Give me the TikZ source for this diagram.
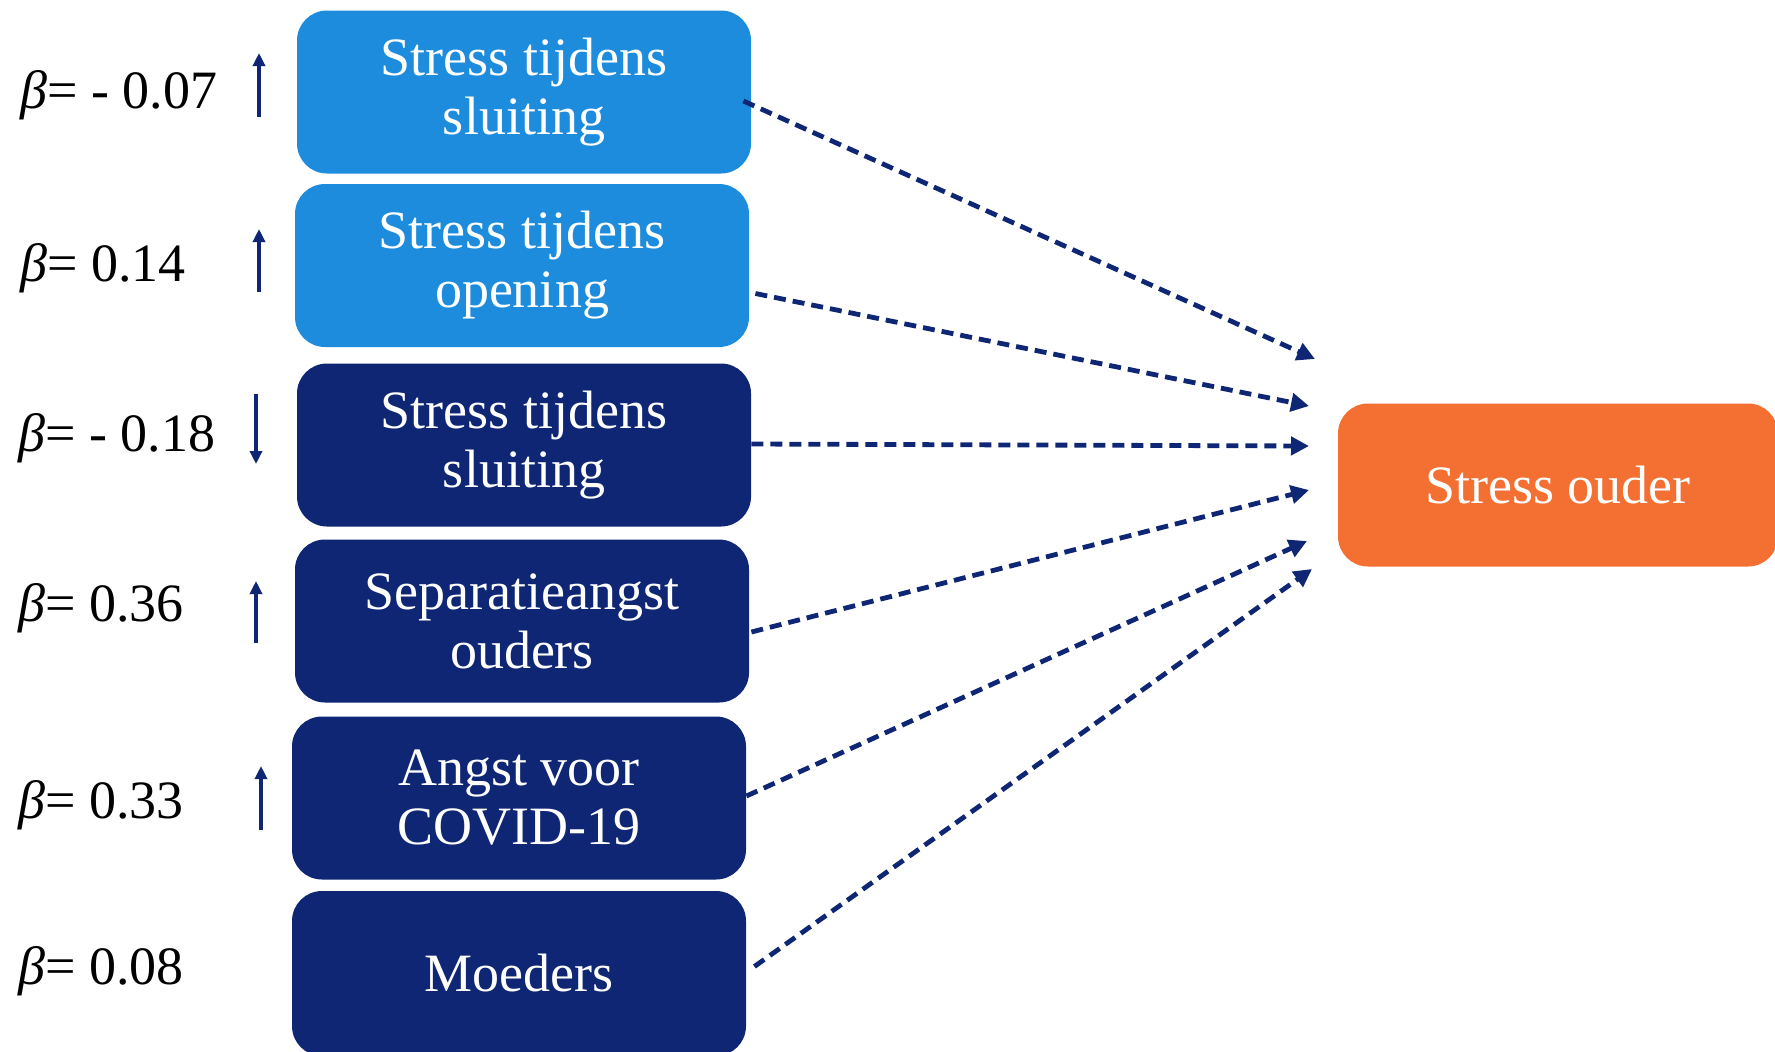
\documentclass[tikz,border=0pt]{standalone}
\usepackage{fontspec}
\setmainfont{Liberation Serif}
\usetikzlibrary{arrows.meta}

\definecolor{lightbox}{RGB}{30,140,220}
\definecolor{darkbox}{RGB}{14,38,115}
\definecolor{orangebox}{RGB}{243,112,50}

\begin{document}
\begin{tikzpicture}[x=0.5pt,y=-0.5pt,
            factor node/.style={rounded corners=15pt, fill=darkbox, text=white, minimum width=227pt, minimum height=81.5pt, align=center, inner sep=0pt, font=\fontsize{27}{29.5}\selectfont},
            light node/.style={factor node, fill=lightbox},
            outcome node/.style={factor node, fill=orangebox, minimum width=220pt},
            beta label/.style={anchor=base west, inner sep=0pt, font=\fontsize{27}{30}\selectfont},
            path arrow/.style={draw=darkbox, line width=2.4pt, dash pattern=on 6pt off 3.5pt, -{Triangle[length=9pt,width=9pt]}},
            trend arrow/.style={draw=darkbox, line width=2pt, -{Triangle[length=6.5pt,width=6pt]}},
            ]
            \useasboundingbox (0,0) rectangle (1775,1051);

            \node[light node] (b1) at (524,92) {Stress tijdens\\sluiting};
            \node[light node] (b2) at (522,265.5) {Stress tijdens\\opening};
            \node[factor node] (b3) at (524,445) {Stress tijdens\\sluiting};
            \node[factor node] (b4) at (522,621) {Separatieangst\\ouders};
            \node[factor node] (b5) at (519,798) {Angst voor\\COVID-19};
            \node[factor node, minimum height=82.5pt] (b6) at (519,973.5) {Moeders};
            \node[outcome node] (out) at (1558,485) {Stress ouder};

            \node[beta label] (l1) at (20,108) {\textit{β}= - 0.07};
            \node[beta label] (l2) at (20,281) {\textit{β}= 0.14};
            \node[beta label] (l3) at (18,451) {\textit{β}= - 0.18};
            \node[beta label] (l4) at (18,621) {\textit{β}= 0.36};
            \node[beta label] (l5) at (18,818) {\textit{β}= 0.33};
            \node[beta label] (l6) at (18,984) {\textit{β}= 0.08};

            \draw[trend arrow] (259,117) -- (259,53);
            \draw[trend arrow] (259,292) -- (259,229);
            \draw[trend arrow] (256,394) -- (256,464);
            \draw[trend arrow] (256,643) -- (256,581);
            \draw[trend arrow] (261,830) -- (261,766);

            \coordinate (e1) at (1315,359);
            \coordinate (e2) at (1309,406);
            \coordinate (e3) at (1309,446);
            \coordinate (e4) at (1309,490);
            \coordinate (e5) at (1307,541);
            \coordinate (e6) at (1312,569);

            \draw[path arrow] ([xshift=-4pt,yshift=-4.5pt]b1.east) -- (e1);
            \draw[path arrow] ([xshift=3pt,yshift=-14pt]b2.east) -- (e2);
            \draw[path arrow] ([yshift=0.5pt]b3.east) -- (e3);
            \draw[path arrow] ([xshift=1pt,yshift=-5.5pt]b4.east) -- (e4);
            \draw[path arrow] ([yshift=1pt]b5.east) -- (e5);
            \draw[path arrow] ([xshift=4pt,yshift=3.5pt]b6.east) -- (e6);
        \end{tikzpicture}
\end{document}
